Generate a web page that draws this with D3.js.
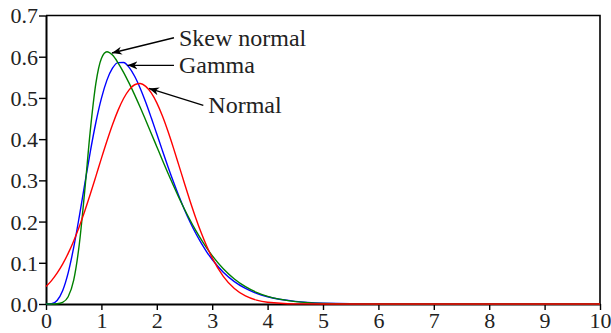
<!DOCTYPE html>
<html>
<head>
<meta charset="utf-8">
<script src="https://cdn.jsdelivr.net/npm/d3@7"></script>
<style>
  html, body { margin: 0; padding: 0; background: #fff; }
  svg { display: block; }
</style>
</head>
<body>
<div id="chart"></div>
<script>
// x grid shared by all three densities
const xs = [0, 0.1, 0.2, 0.3, 0.4, 0.5, 0.6, 0.7, 0.8, 0.9, 1.0, 1.1, 1.2, 1.3, 1.4, 1.5,
  1.6, 1.7, 1.8, 1.9, 2.0, 2.1, 2.2, 2.3, 2.4, 2.5, 2.6, 2.7, 2.8, 2.9, 3.0,
  3.2, 3.4, 3.6, 3.8, 4.0, 4.5, 5, 6, 10];

const normalY = [0.0424, 0.0568, 0.0748, 0.0967, 0.1228, 0.1531, 0.1876, 0.2257, 0.2667, 0.3097,
  0.3533, 0.3955, 0.4350, 0.4698, 0.4986, 0.5196, 0.5320, 0.5350, 0.5281, 0.5122,
  0.4880, 0.4566, 0.4196, 0.3788, 0.3358, 0.2924, 0.2501, 0.2101, 0.1733, 0.1405,
  0.1118, 0.0671, 0.0375, 0.0195, 0.0094, 0.0042, 0.0004, 0, 0, 0];

const gammaY = [0, 0.0007, 0.0086, 0.0322, 0.0756, 0.1372, 0.2116, 0.2915, 0.3698, 0.4404,
  0.4990, 0.5432, 0.5721, 0.5857, 0.5860, 0.5741, 0.5526, 0.5236, 0.4894, 0.4517,
  0.4124, 0.3727, 0.3338, 0.2965, 0.2613, 0.2288, 0.1990, 0.1722, 0.1481, 0.1267,
  0.1079, 0.0772, 0.0544, 0.0378, 0.0259, 0.0176, 0.0064, 0.0022, 0.0002, 0];

const skewY = [0, 0.0001, 0.0007, 0.0040, 0.0176, 0.0579, 0.1437, 0.2756, 0.4213, 0.5353,
  0.5958, 0.6120, 0.6039, 0.5853, 0.5622, 0.5358, 0.5075, 0.4773, 0.4458, 0.4139,
  0.3817, 0.3495, 0.3180, 0.2873, 0.2578, 0.2299, 0.2038, 0.1792, 0.1569, 0.1363,
  0.1175, 0.0856, 0.0608, 0.0420, 0.0283, 0.0185, 0.0057, 0.0015, 0, 0];

const xTicks = [0, 1, 2, 3, 4, 5, 6, 7, 8, 9, 10];
const yTicks = [0, 0.1, 0.2, 0.3, 0.4, 0.5, 0.6, 0.7];

// labels: arrow from (tx,ty) to (hx,hy), in data units
const notes = [
  { text: "Skew normal", tx: 2.31, ty: 0.646, hx: 1.19, hy: 0.609 },
  { text: "Gamma", tx: 2.31, ty: 0.579, hx: 1.47, hy: 0.579 },
  { text: "Normal", tx: 2.84, ty: 0.482, hx: 1.86, hy: 0.523 }
];

const FONT = "Liberation Serif";
const W = 611, H = 333;
const margin = { top: 15.5, right: 11, bottom: 29, left: 46 };

const svg = d3.select("#chart").append("svg")
  .attr("width", W)
  .attr("height", H)
  .attr("font-family", FONT);

const x = d3.scaleLinear().domain([0, 10]).range([margin.left, W - margin.right]);
const y = d3.scaleLinear().domain([0, 0.7]).range([H - margin.bottom, margin.top]);

// arrow head
svg.append("defs").append("marker")
  .attr("id", "arrow")
  .attr("viewBox", "-10 -5 12 10")
  .attr("refX", 0).attr("refY", 0)
  .attr("markerWidth", 12).attr("markerHeight", 10)
  .attr("markerUnits", "userSpaceOnUse")
  .attr("orient", "auto")
  .append("path")
  .attr("d", "M0,0 L-10,-4 L-7,0 L-10,4 Z")
  .attr("fill", "#000");

// frame (top and right)
svg.append("path")
  .attr("d", `M${x(0)},${y(0.7)} H${x(10)} V${y(0)}`)
  .attr("fill", "none")
  .attr("stroke", "#000")
  .attr("stroke-width", 1.6);

// axes
const xAxis = svg.append("g")
  .attr("transform", `translate(0,${y(0)})`)
  .call(d3.axisBottom(x).tickValues(xTicks).tickFormat(d3.format("d")).tickSize(6).tickSizeOuter(0));

const yAxis = svg.append("g")
  .attr("transform", `translate(${x(0)},0)`)
  .call(d3.axisLeft(y).tickValues(yTicks).tickFormat(d3.format(".1f")).tickSize(7).tickSizeOuter(0));

[xAxis, yAxis].forEach(g => {
  g.attr("font-family", FONT).attr("font-size", 22);
  g.select(".domain").attr("stroke", "#000").attr("stroke-width", 2);
  g.selectAll(".tick line").attr("stroke", "#000").attr("stroke-width", 1.4);
  g.selectAll(".tick text")
    .attr("fill", "#222")
    .attr("font-family", FONT)
    .attr("font-size", 22);
});
xAxis.selectAll(".tick text").attr("dy", 0).attr("y", 24);
yAxis.selectAll(".tick text").attr("x", -8).attr("dy", "0.34em");

// curves
const line = d3.line()
  .curve(d3.curveMonotoneX)
  .x((d, i) => x(xs[i]))
  .y(d => y(d));

const series = [
  { values: gammaY, color: "#0000ff" },
  { values: skewY, color: "#008000" },
  { values: normalY, color: "#ff0000" }
];

series.forEach(s => {
  svg.append("path")
    .datum(s.values)
    .attr("fill", "none")
    .attr("stroke", s.color)
    .attr("stroke-width", 1.4)
    .attr("d", line);
});

// annotations
notes.forEach(n => {
  svg.append("line")
    .attr("x1", x(n.tx)).attr("y1", y(n.ty))
    .attr("x2", x(n.hx)).attr("y2", y(n.hy))
    .attr("stroke", "#000")
    .attr("stroke-width", 1.3)
    .attr("marker-end", "url(#arrow)");
  svg.append("text")
    .attr("x", x(n.tx) + 5)
    .attr("y", y(n.ty) + 8)
    .attr("fill", "#222")
    .attr("font-family", FONT)
    .attr("font-size", 24)
    .text(n.text);
});
</script>
</body>
</html>
